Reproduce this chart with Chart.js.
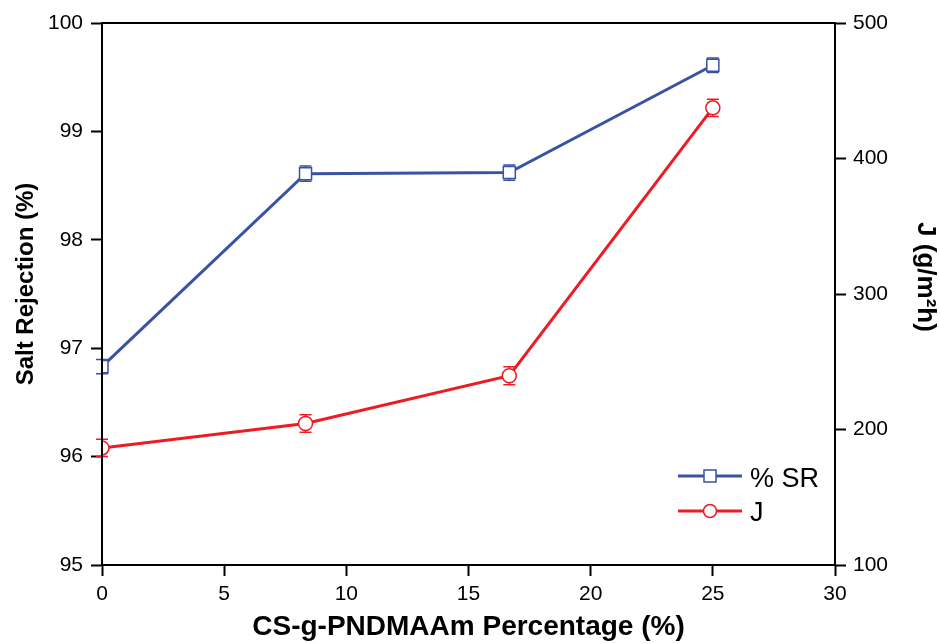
<!DOCTYPE html>
<html>
<head>
<meta charset="utf-8">
<script src="https://cdn.jsdelivr.net/npm/chart.js@4.4.1/dist/chart.umd.min.js"></script>
<style>
html,body{margin:0;padding:0;background:#fff;}
#wrap{width:940px;height:644px;}
</style>
</head>
<body>
<div id="wrap"><canvas id="c" width="940" height="644"></canvas></div>
<script>
const percentages = [0, 8.33, 16.67, 25];
const saltRejection = [96.83, 98.61, 98.62, 99.61];
const saltRejectionErr = [0.065, 0.07, 0.07, 0.067];
const fluxJ = [186.4, 204.4, 239.7, 437.4];
const fluxJErr = [6.4, 6.4, 6.6, 6.4];
const xTicks = [0, 5, 10, 15, 20, 25, 30];
const leftTicks = [95, 96, 97, 98, 99, 100];
const rightTicks = [100, 200, 300, 400, 500];
const seriesNames = ['% SR', 'J'];
const xTitle = 'CS-g-PNDMAAm Percentage (%)';
const leftTitle = 'Salt Rejection (%)';
const rightTitle = 'J (g/m\u00B2h)';

const BLUE = '#3953a4';
const RED = '#ed1c24';
const FONT = '"Liberation Sans", Arial, Helvetica, sans-serif';

const errorBars = {
  id: 'errorBars',
  beforeDatasetsDraw(chart) {
    const ctx = chart.ctx;
    const errs = [saltRejectionErr, fluxJErr];
    chart.data.datasets.forEach((ds, i) => {
      const xs = chart.scales.x;
      const ys = chart.scales[ds.yAxisID];
      ctx.save();
      ctx.strokeStyle = ds.borderColor;
      ctx.lineWidth = 1.5;
      ds.data.forEach((p, j) => {
        const px = xs.getPixelForValue(p.x);
        const top = ys.getPixelForValue(p.y + errs[i][j]);
        const bot = ys.getPixelForValue(p.y - errs[i][j]);
        ctx.beginPath();
        ctx.moveTo(px - 6, top); ctx.lineTo(px + 6, top);
        ctx.moveTo(px - 6, bot); ctx.lineTo(px + 6, bot);
        ctx.moveTo(px, top); ctx.lineTo(px, bot);
        ctx.stroke();
      });
      ctx.restore();
    });
  }
};

const frameLegendTitles = {
  id: 'frameLegendTitles',
  afterDraw(chart) {
    const ctx = chart.ctx;
    const a = chart.chartArea;
    ctx.save();
    ctx.strokeStyle = '#000';
    ctx.lineWidth = 2;
    ctx.strokeRect(a.left, a.top, a.right - a.left, a.bottom - a.top);
    // legend
    const items = [
      {y: 476, base: 487, color: BLUE, shape: 'rect'},
      {y: 511, base: 521, color: RED, shape: 'circle'}
    ];
    items.forEach((it, k) => {
      ctx.strokeStyle = it.color;
      ctx.lineWidth = 3;
      ctx.beginPath();
      ctx.moveTo(678, it.y); ctx.lineTo(742, it.y);
      ctx.stroke();
      ctx.fillStyle = '#fff';
      ctx.lineWidth = 1.5;
      ctx.beginPath();
      if (it.shape === 'rect') {
        ctx.rect(704, it.y - 6, 12, 12);
      } else {
        ctx.arc(710, it.y, 6.5, 0, Math.PI * 2);
      }
      ctx.fill();
      ctx.stroke();
      ctx.fillStyle = '#000';
      ctx.font = '27px ' + FONT;
      ctx.textBaseline = 'alphabetic';
      ctx.textAlign = 'left';
      ctx.fillText(seriesNames[k], 750, it.base);
    });
    // y titles
    ctx.fillStyle = '#000';
    ctx.textAlign = 'center';
    ctx.textBaseline = 'middle';
    ctx.font = 'bold 24px ' + FONT;
    ctx.save();
    ctx.translate(26, 284);
    ctx.rotate(-Math.PI / 2);
    ctx.fillText(leftTitle, 0, 0);
    ctx.restore();
    ctx.font = 'bold 26px ' + FONT;
    ctx.save();
    ctx.translate(925, 277);
    ctx.rotate(Math.PI / 2);
    ctx.fillText(rightTitle, 0, 0);
    ctx.restore();
    ctx.restore();
  }
};

const tickFont = {family: FONT, size: 21};
const gridOpts = {drawOnChartArea: false, drawTicks: true, tickLength: 11, tickWidth: 2, color: '#000'};

new Chart(document.getElementById('c'), {
  type: 'line',
  data: {
    datasets: [
      {
        label: seriesNames[0],
        data: percentages.map((x, i) => ({x, y: saltRejection[i]})),
        yAxisID: 'y',
        borderColor: BLUE,
        backgroundColor: '#fff',
        borderWidth: 3,
        pointStyle: 'rect',
        pointRadius: 8.5,
        pointBorderWidth: 1.5,
        pointBackgroundColor: '#fff',
        pointBorderColor: BLUE,
        tension: 0
      },
      {
        label: seriesNames[1],
        data: percentages.map((x, i) => ({x, y: fluxJ[i]})),
        yAxisID: 'y1',
        borderColor: RED,
        backgroundColor: '#fff',
        borderWidth: 3,
        pointStyle: 'circle',
        pointRadius: 7,
        pointBorderWidth: 1.5,
        pointBackgroundColor: '#fff',
        pointBorderColor: RED,
        tension: 0
      }
    ]
  },
  options: {
    responsive: false,
    animation: false,
    devicePixelRatio: 1,
    layout: {padding: {top: 23, right: 0, left: 0, bottom: 0}},
    plugins: {legend: {display: false}, tooltip: {enabled: false}},
    scales: {
      x: {
        type: 'linear',
        min: 0, max: 30,
        afterBuildTicks: s => { s.ticks = xTicks.map(v => ({value: v})); },
        afterFit: s => { s.height = 79; },
        grid: gridOpts,
        border: {display: true, color: '#000', width: 2},
        ticks: {color: '#000', font: tickFont, padding: 6, maxRotation: 0},
        title: {display: true, text: xTitle, color: '#000', font: {family: FONT, size: 28, weight: 'bold'}, padding: {top: 0, bottom: 0}}
      },
      y: {
        type: 'linear',
        position: 'left',
        min: 95, max: 100,
        afterBuildTicks: s => { s.ticks = leftTicks.map(v => ({value: v})); },
        afterFit: s => { s.width = 102; },
        grid: gridOpts,
        border: {display: true, color: '#000', width: 2},
        ticks: {color: '#000', font: tickFont, padding: 8}
      },
      y1: {
        type: 'linear',
        position: 'right',
        min: 100, max: 500,
        afterBuildTicks: s => { s.ticks = rightTicks.map(v => ({value: v})); },
        afterFit: s => { s.width = 105; },
        grid: gridOpts,
        border: {display: true, color: '#000', width: 2},
        ticks: {color: '#000', font: tickFont, padding: 7}
      }
    }
  },
  plugins: [errorBars, frameLegendTitles]
});
</script>
</body>
</html>
